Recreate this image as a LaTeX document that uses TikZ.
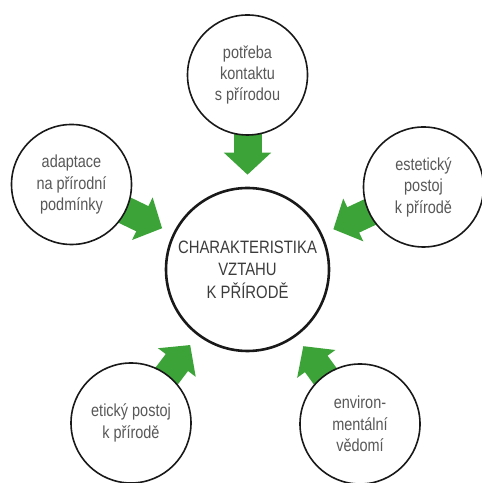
\documentclass[tikz,border=0pt]{standalone}
\usepackage{fontspec}
\newfontfamily\labfont{Liberation Sans}[FakeStretch=0.83]
\usetikzlibrary{arrows.meta,backgrounds}
\definecolor{arrowgreen}{RGB}{60,163,56}
\definecolor{txtgray}{RGB}{88,88,88}
\definecolor{hubgray}{RGB}{60,60,60}
\tikzset{
  topic/.style={circle,draw=black!90,line width=1.6bp,fill=white,minimum size=120bp,inner sep=0pt,
    align=center,text=txtgray,font=\labfont\fontsize{17.5}{21.5}\selectfont},
  hub/.style={circle,draw=black!90,line width=2.6bp,fill=white,minimum size=163bp,inner sep=0pt,
    align=center,text=hubgray,font=\labfont\fontsize{18}{22.5}\selectfont},
  bigarrow/.style={draw=arrowgreen,line width=28bp,-{Triangle[width=46bp,length=22bp]},
    shorten <=-25bp,shorten >=12bp}
}
\begin{document}
\begin{tikzpicture}[x=1bp,y=1bp]
\useasboundingbox (0,0) rectangle (482,483);
\node[hub]   (main)  at (247.5,213.5) {CHARAKTERISTIKA\\VZTAHU\\K PŘÍRODĚ};
\node[topic] (top)   at (247.5,408) {potřeba\\kontaktu\\s přírodou};
\node[topic] (left)  at (71.5,298.5) {adaptace\\na přírodní\\podmínky};
\node[topic] (right) at (423.5,296) {estetický\\postoj\\k přírodě};
\node[topic] (bl)    at (131,60) {etický postoj\\k přírodě};
\node[topic] (br)    at (360,59) {environ-\\mentální\\vědomí};
\begin{scope}[on background layer]
\draw[bigarrow] (top) -- (main);
\draw[bigarrow] (left) -- (main);
\draw[bigarrow] (right) -- (main);
\draw[bigarrow] (bl) -- (main);
\draw[bigarrow] (br) -- (main);
\end{scope}
\end{tikzpicture}
\end{document}
